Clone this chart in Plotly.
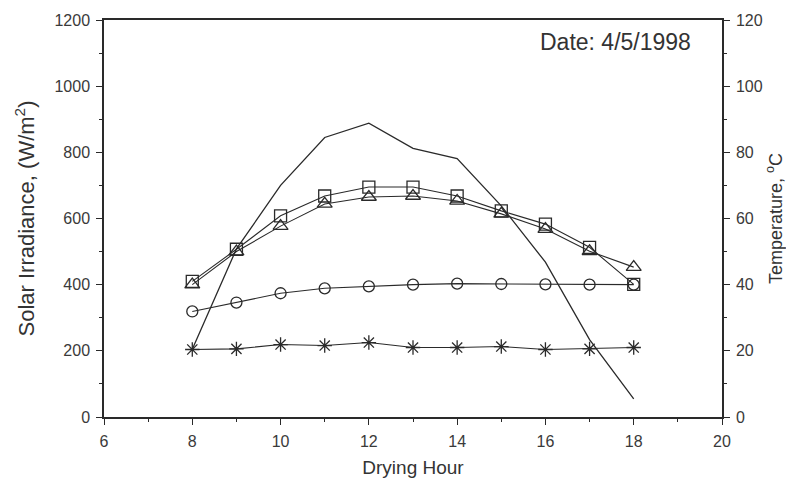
import plotly.graph_objects as go

hours = [8, 9, 10, 11, 12, 13, 14, 15, 16, 17, 18]
solar = [205, 508, 700, 845, 888, 812, 781, 638, 468, 234, 55]
temp_square = [41, 50.7, 60.8, 66.8, 69.5, 69.5, 66.8, 62.3, 58.3, 51.3, 40.1]
temp_triangle = [40, 50, 57.7, 64.4, 66.5, 66.8, 65.3, 61.4, 56.8, 50.1, 45.3]
temp_circle = [31.9, 34.6, 37.4, 38.9, 39.5, 40, 40.3, 40.2, 40.1, 40.0, 40.0]
temp_star = [20.4, 20.6, 21.9, 21.6, 22.5, 21, 21, 21.3, 20.4, 20.6, 21]

ink = "#2a2a2a"
fam = "Liberation Sans, Arial, sans-serif"
tickfont = dict(family=fam, color="#3a3a3a", size=16)

fig = go.Figure()
fig.add_trace(go.Scatter(x=hours, y=solar, mode="lines", line=dict(color=ink, width=1.3),
                         showlegend=False))
for ys, sym, sz in [(temp_square, "square-open", 12), (temp_triangle, "triangle-up-open", 13),
                    (temp_circle, "circle-open", 11), (temp_star, "asterisk-open", 12)]:
    fig.add_trace(go.Scatter(x=hours, y=ys, yaxis="y2", mode="lines+markers",
                             line=dict(color=ink, width=1.1),
                             marker=dict(symbol=sym, size=sz, color=ink, line=dict(color=ink, width=1.3)),
                             showlegend=False, cliponaxis=False))

axis_common = dict(showline=True, linecolor=ink, linewidth=1.5, ticks="outside", ticklen=6,
                   tickcolor=ink, tickwidth=1.3, showgrid=False, zeroline=False,
                   tickfont=tickfont, ticklabelstandoff=3, automargin=False)

fig.update_layout(
    width=786, height=486,
    margin=dict(l=104, r=64, t=20, b=69),
    plot_bgcolor="white", paper_bgcolor="white",
    font=dict(family=fam, color="#333333", size=15),
    xaxis=dict(range=[6, 20], dtick=2, mirror=True,
               title=dict(text="Drying Hour", standoff=12, font=dict(family=fam, size=19, color="#333333")),
               minor=dict(dtick=1, ticks="outside", ticklen=3, tickcolor=ink), **axis_common),
    yaxis=dict(range=[0, 1200], dtick=200,
               title=dict(text="Solar Irradiance, (W/m<sup>2</sup>)", standoff=14,
                          font=dict(family=fam, size=22, color="#333333")),
               minor=dict(dtick=100, ticks="outside", ticklen=3, tickcolor=ink), **axis_common),
    yaxis2=dict(range=[0, 120], dtick=20, overlaying="y", side="right",
                title=dict(text="Temperature, <sup>o</sup>C", standoff=10,
                           font=dict(family=fam, size=18, color="#333333")),
                minor=dict(dtick=10, ticks="outside", ticklen=3, tickcolor=ink), **axis_common),
    annotations=[dict(text="Date: 4/5/1998", xref="paper", yref="paper", x=0.953, y=0.945,
                      xanchor="right", yanchor="middle", showarrow=False,
                      font=dict(family=fam, size=23, color="#333333"))],
)

fig.write_html("out.html")
